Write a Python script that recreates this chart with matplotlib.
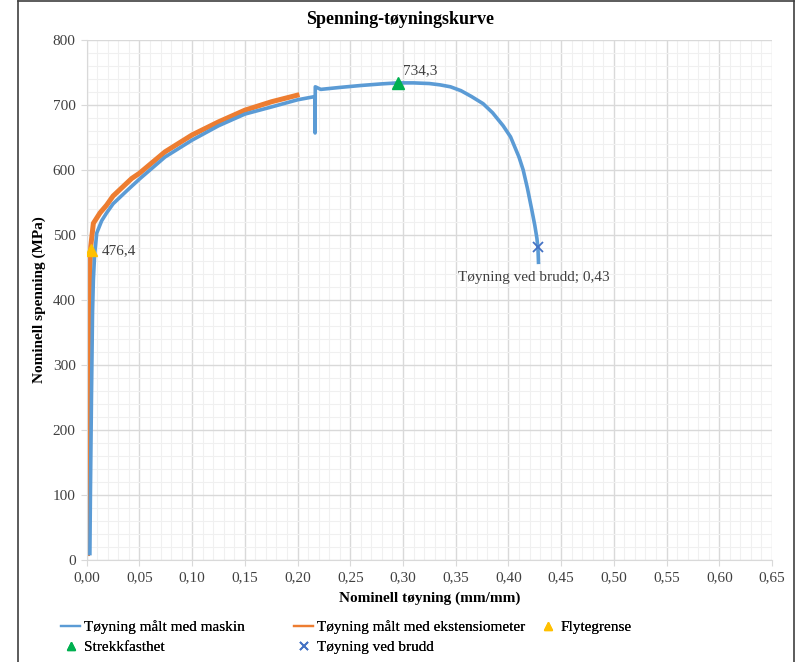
import matplotlib.pyplot as plt
from matplotlib.lines import Line2D
from matplotlib.ticker import MultipleLocator, FuncFormatter

plt.rcParams['font.family'] = ['Liberation Serif', 'DejaVu Serif']

# Data
machine_strain = [0.003, 0.0035, 0.0045, 0.0055, 0.0063, 0.0075, 0.0095, 0.0142, 0.0189, 0.025,
                  0.038, 0.05, 0.0743, 0.10, 0.125, 0.15, 0.1753, 0.20, 0.2165, 0.2166, 0.2168,
                  0.222, 0.24, 0.26, 0.28, 0.295, 0.31, 0.325, 0.335, 0.345, 0.355, 0.365,
                  0.376, 0.385, 0.395, 0.402, 0.41, 0.414, 0.418, 0.422, 0.425, 0.427,
                  0.428, 0.4285]
machine_stress = [10, 100, 250, 380, 431, 470, 503, 522, 534, 548,
                  568, 586, 620, 646, 668, 686, 697, 708, 713, 657, 728,
                  724, 727, 730, 732.5, 734, 734, 733, 731, 728, 722, 713,
                  702, 688, 668, 651, 620, 600, 572, 540, 515, 495,
                  480, 458]

ext_strain = [0.0008, 0.0012, 0.0016, 0.0028, 0.0038, 0.0063, 0.0126, 0.0189, 0.025, 0.0427,
              0.05, 0.0743, 0.10, 0.125, 0.15, 0.1753, 0.1995]
ext_stress = [10, 200, 328, 440, 482, 518, 534, 546, 560, 587,
              595, 628, 654, 674, 692, 705, 715]

yield_pt = (0.004, 476.4)
uts_pt = (0.295, 734.3)
break_pt = (0.4285, 482)

blue = '#5B9BD5'
orange = '#ED7D31'

fig = plt.figure(figsize=(8, 6.62), dpi=100)
ax = fig.add_axes([0.1084, 0.154, 0.8566, 0.7856])

ax.plot(machine_strain, machine_stress, color=blue, linewidth=2.6, zorder=3,
        label='Tøyning målt med maskin')
ax.plot(ext_strain, ext_stress, color=orange, linewidth=3.6, zorder=2,
        label='Tøyning målt med ekstensiometer')
ax.plot(*yield_pt, marker='^', color='#FFC000', markersize=8, linestyle='none', zorder=4,
        label='Flytegrense')
ax.plot(*uts_pt, marker='^', color='#00B050', markersize=8, linestyle='none', zorder=4,
        label='Strekkfasthet')
ax.plot(*break_pt, marker='x', color='#4472C4', markersize=7, markeredgewidth=1.3,
        linestyle='none', zorder=4, label='Tøyning ved brudd')

ax.annotate('476,4', xy=yield_pt, xytext=(8, 0), textcoords='offset points',
            va='center', ha='left', fontsize=11, color='#404040')
ax.annotate('734,3', xy=uts_pt, xytext=(4, 9), textcoords='offset points',
            va='center', ha='left', fontsize=11, color='#404040')
ax.annotate('Tøyning ved brudd; 0,43', xy=break_pt, xytext=(-58, -22), textcoords='offset points',
            va='center', ha='left', fontsize=11, color='#404040')

ax.set_xlim(0, 0.65)
ax.set_ylim(0, 800)
ax.xaxis.set_major_locator(MultipleLocator(0.05))
ax.xaxis.set_minor_locator(MultipleLocator(0.01))
ax.yaxis.set_major_locator(MultipleLocator(100))
ax.yaxis.set_minor_locator(MultipleLocator(20))
ax.xaxis.set_major_formatter(FuncFormatter(lambda v, p: f'{v:.2f}'.replace('.', ',')))
ax.grid(True, which='major', color='#D9D9D9', linewidth=1.0)
ax.grid(True, which='minor', color='#F0F0F0', linewidth=0.8)
ax.set_axisbelow(True)
for s in ['top', 'right']:
    ax.spines[s].set_visible(False)
ax.spines['left'].set_color('#D9D9D9')
ax.spines['bottom'].set_color('#D9D9D9')
ax.tick_params(which='major', length=4, color='#D9D9D9', labelsize=11, labelcolor='#404040',
               pad=4)
ax.tick_params(which='minor', length=0)

ax.set_xlabel('Nominell tøyning (mm/mm)', fontsize=11, fontweight='bold', labelpad=5)
ax.set_ylabel('Nominell spenning (MPa)', fontsize=11, fontweight='bold', labelpad=5)
fig.text(0.5, 0.97, 'Spenning-tøyningskurve', ha='center', va='center',
         fontsize=13, fontweight='bold')

# legend: three columns placed by hand, two rows
handles, labels = ax.get_legend_handles_labels()
columns = [([0, 3], 61), ([1, 4], 294), ([2], 538)]
for idx, xpx in columns:
    leg = fig.legend([handles[i] for i in idx], [labels[i] for i in idx],
                     loc='upper left', bbox_to_anchor=(xpx / 800, 0.063), ncol=1,
                     frameon=False, fontsize=11, handlelength=1.25, handletextpad=0.25,
                     labelspacing=0.4, borderaxespad=0, borderpad=0, markerscale=0.8)
    for line in leg.get_lines():
        line.set_linewidth(1.6)
    fig.add_artist(leg)

# chart frame
fig.add_artist(Line2D([0.0225, 0.0225], [0, 0.999], color='#404040', linewidth=1.2))
fig.add_artist(Line2D([0.9925, 0.9925], [0, 0.999], color='#404040', linewidth=1.2))
fig.add_artist(Line2D([0.0225, 0.9925], [0.999, 0.999], color='#404040', linewidth=1.2))

fig.savefig('out.png', dpi=100)
